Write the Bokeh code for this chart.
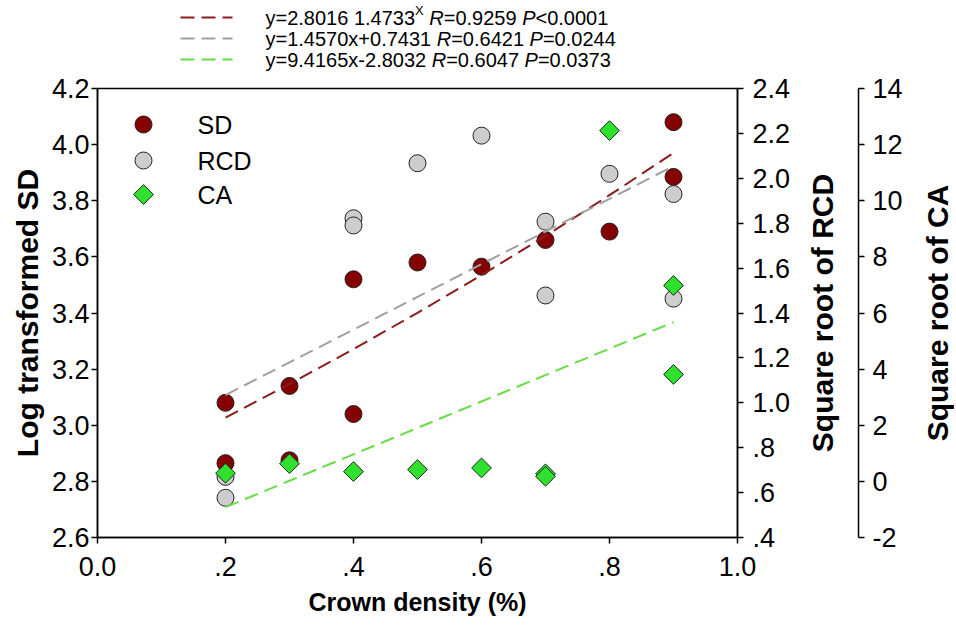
import math
from bokeh.plotting import figure
from bokeh.layouts import column, row
from bokeh.models import Range1d, FixedTicker, Label, LinearAxis
from bokeh.core.properties import value
from bokeh.embed import file_html
from bokeh.resources import INLINE

# ---------------- data ----------------
x_ticks = [0.0, 0.2, 0.4, 0.6, 0.8, 1.0]
x_tick_labels = ["0.0", ".2", ".4", ".6", ".8", "1.0"]
sd_ticks = [2.6, 2.8, 3.0, 3.2, 3.4, 3.6, 3.8, 4.0, 4.2]
sd_tick_labels = ["2.6", "2.8", "3.0", "3.2", "3.4", "3.6", "3.8", "4.0", "4.2"]
rcd_ticks = [0.4, 0.6, 0.8, 1.0, 1.2, 1.4, 1.6, 1.8, 2.0, 2.2, 2.4]
rcd_tick_labels = [".4", ".6", ".8", "1.0", "1.2", "1.4", "1.6", "1.8", "2.0", "2.2", "2.4"]
ca_ticks = [-2, 0, 2, 4, 6, 8, 10, 12, 14]
ca_tick_labels = ["-2", "0", "2", "4", "6", "8", "10", "12", "14"]

# SD (log transformed, left axis)
sd_x = [0.2, 0.2, 0.3, 0.3, 0.4, 0.4, 0.5, 0.6, 0.7, 0.8, 0.9, 0.9]
sd_y = [3.08, 2.865, 3.14, 2.875, 3.52, 3.04, 3.58, 3.565, 3.66, 3.69, 4.08, 3.885]
# RCD (square root, right axis)
rcd_x = [0.2, 0.2, 0.4, 0.4, 0.5, 0.6, 0.7, 0.7, 0.8, 0.9, 0.9]
rcd_y = [0.67, 0.577, 1.822, 1.79, 2.067, 2.19, 1.807, 1.478, 2.02, 1.93, 1.464]
# CA (square root, outer right axis)
ca_x = [0.2, 0.3, 0.4, 0.5, 0.6, 0.7, 0.7, 0.8, 0.9, 0.9]
ca_y = [0.29, 0.63, 0.35, 0.42, 0.48, 0.27, 0.18, 12.5, 6.98, 3.81]

series_names = ["SD", "RCD", "CA"]
x_title = "Crown density (%)"
y_titles = ["Log transformed SD", "Square root of RCD", "Square root of CA"]

# fitted relations (coefficients as printed on the chart)
fit_x = [0.2, 0.3, 0.4, 0.5, 0.6, 0.7, 0.8, 0.9]
sd_fit_a, sd_fit_b = 2.8016, 1.4733       # y = a * b^x
rcd_fit_k, rcd_fit_c = 1.4570, 0.7431     # y = kx + c
ca_fit_k, ca_fit_c = 9.4165, -2.8032      # y = kx + c
sd_fit_y = [sd_fit_a * sd_fit_b ** v for v in fit_x]
rcd_fit_y = [rcd_fit_k * v + rcd_fit_c for v in fit_x]
ca_fit_y = [ca_fit_k * v + ca_fit_c for v in fit_x]

eq_rows = [
    [("y=2.8016 1.4733", "n"), ("X", "sup"), (" ", "n"), ("R", "i"), ("=0.9259 ", "n"), ("P", "i"), ("<0.0001", "n")],
    [("y=1.4570x+0.7431 ", "n"), ("R", "i"), ("=0.6421 ", "n"), ("P", "i"), ("=0.0244", "n")],
    [("y=9.4165x-2.8032 ", "n"), ("R", "i"), ("=0.6047 ", "n"), ("P", "i"), ("=0.0373", "n")],
]

# ---------------- style ----------------
FONT = "Liberation Sans"
FW, FH = 640, 449
X0, X1 = 0.0, 1.0
Y0, Y1 = 2.6, 4.2
SD_COL, RCD_COL, CA_COL = "#850000", "#cdcdcd", "#2fe02f"
FIT_COLS = ["#8b1c1c", "#a0a0a0", "#66dd44"]
DASH = "14 7"
TICK_FS = "27px"
TITLE_FS_H = "25px"
TITLE_FS_V = "30px"
B_TOP, B_BOT = 17, 91
TOP_H = 88 - B_TOP
MAIN_RIGHT = 63        # room for RCD ticks + labels
MID_W, MID_RIGHT = 58, 62
END_W = 34


def style_axis(ax, tick_std, lab_std=0, title_fs=None):
    ax.axis_line_width = 1.5
    ax.axis_line_color = "black"
    ax.major_tick_line_width = 1.5
    ax.major_tick_line_color = "black"
    ax.major_tick_out = 6
    ax.major_tick_in = 0
    ax.minor_tick_line_color = None
    ax.major_label_text_font = FONT
    ax.major_label_text_font_size = TICK_FS
    ax.major_label_text_color = "black"
    ax.major_label_standoff = tick_std
    ax.axis_label_text_font = FONT
    if title_fs:
        ax.axis_label_text_font_size = title_fs
    ax.axis_label_text_font_style = "bold"
    ax.axis_label_text_color = "black"
    ax.axis_label_standoff = lab_std


def blank(fig):
    fig.grid.visible = False
    fig.outline_line_color = None
    fig.background_fill_color = "white"
    fig.border_fill_color = "white"


# ---------------- main plot ----------------
p = figure(frame_width=FW, frame_height=FH,
           x_range=Range1d(X0, X1), y_range=Range1d(Y0, Y1),
           output_backend="svg", toolbar_location=None,
           min_border_left=97, min_border_top=B_TOP, min_border_bottom=B_BOT,
           min_border_right=MAIN_RIGHT, y_axis_location="left")
p.extra_y_ranges = {"rcd": Range1d(rcd_ticks[0], rcd_ticks[-1]),
                    "ca": Range1d(ca_ticks[0], ca_ticks[-1])}
p.grid.visible = False
p.outline_line_color = "black"
p.outline_line_width = 1.5
p.background_fill_color = "white"
p.border_fill_color = "white"

xa = p.xaxis[0]
xa.ticker = FixedTicker(ticks=x_ticks)
xa.major_label_overrides = dict(zip(x_ticks, x_tick_labels))
xa.axis_label = x_title
style_axis(xa, 13, 9, TITLE_FS_H)

ya = p.yaxis[0]
ya.ticker = FixedTicker(ticks=sd_ticks)
ya.major_label_overrides = dict(zip(sd_ticks, sd_tick_labels))
ya.axis_label = y_titles[0]
style_axis(ya, 2, 5, TITLE_FS_V)

rcd_axis = LinearAxis(y_range_name="rcd", ticker=FixedTicker(ticks=rcd_ticks),
                      major_label_overrides=dict(zip(rcd_ticks, rcd_tick_labels)))
style_axis(rcd_axis, 9)
p.add_layout(rcd_axis, "right")

# points
p.scatter(sd_x, sd_y, marker="circle", size=17, fill_color=SD_COL,
          line_color="#222222", line_width=1)
p.scatter(rcd_x, rcd_y, y_range_name="rcd", marker="circle", size=17,
          fill_color=RCD_COL, line_color="#222222", line_width=1)
p.scatter(ca_x, ca_y, y_range_name="ca", marker="square", angle=math.pi / 4,
          size=14, fill_color=CA_COL, line_color="#1a2a1a", line_width=1)

# fit lines
p.line(fit_x, sd_fit_y, line_color=FIT_COLS[0], line_width=2, line_dash=DASH)
p.line(fit_x, rcd_fit_y, y_range_name="rcd", line_color=FIT_COLS[1], line_width=2, line_dash=DASH)
p.line(fit_x, ca_fit_y, y_range_name="ca", line_color=FIT_COLS[2], line_width=2, line_dash=DASH)

# in-plot legend (layout in px from the frame's top-left corner)
LEG_MX, LEG_TX = 46, 100
LEG_ROWS = [36, 72, 106]


def fx(px):
    return X0 + px * (X1 - X0) / FW


def fy(px):
    return Y1 - px * (Y1 - Y0) / FH


leg_styles = [dict(marker="circle", size=17, fill_color=SD_COL, line_color="#222222"),
              dict(marker="circle", size=17, fill_color=RCD_COL, line_color="#222222"),
              dict(marker="square", size=14, angle=math.pi / 4, fill_color=CA_COL,
                   line_color="#1a2a1a")]
for name, rr, st in zip(series_names, LEG_ROWS, leg_styles):
    p.scatter([fx(LEG_MX)], [fy(rr)], line_width=1, **st)
    p.add_layout(Label(x=fx(LEG_TX), y=fy(rr), text=name, text_font=FONT,
                       text_font_size="25px", text_baseline="middle",
                       text_align="left", text_color="black"))

# ---------------- middle strip: RCD title + CA axis ----------------
mid = figure(frame_width=MID_W, frame_height=FH, x_range=Range1d(0, MID_W),
             y_range=Range1d(ca_ticks[0], ca_ticks[-1]),
             x_axis_location=None, y_axis_location="right",
             min_border_left=0, min_border_right=MID_RIGHT,
             min_border_top=B_TOP, min_border_bottom=B_BOT,
             output_backend="svg", toolbar_location=None)
blank(mid)
ca_axis = mid.yaxis[0]
ca_axis.ticker = FixedTicker(ticks=ca_ticks)
ca_axis.major_label_overrides = dict(zip(ca_ticks, ca_tick_labels))
style_axis(ca_axis, 8)
mid.text([22], [(ca_ticks[0] + ca_ticks[-1]) / 2], text=[y_titles[1]],
         angle=math.pi / 2, text_align="center", text_baseline="middle",
         text_font=value(FONT), text_font_size=value(TITLE_FS_V),
         text_font_style="bold", text_color="black")

# ---------------- end strip: CA title ----------------
end = figure(frame_width=END_W, frame_height=FH, x_range=Range1d(0, END_W),
             y_range=Range1d(0, 1), x_axis_location=None, y_axis_location=None,
             min_border_left=0, min_border_right=0,
             min_border_top=B_TOP, min_border_bottom=B_BOT,
             output_backend="svg", toolbar_location=None)
blank(end)
end.text([17], [0.5], text=[y_titles[2]], angle=math.pi / 2, text_align="center",
         text_baseline="middle", text_font=value(FONT),
         text_font_size=value(TITLE_FS_V), text_font_style="bold",
         text_color="black")

# ---------------- equation legend strip (top) ----------------
CHAR_W = {**{d: 0.556 for d in "0123456789"}, ".": 0.278, "=": 0.584, "+": 0.584,
          "<": 0.584, "-": 0.333, " ": 0.278, "y": 0.5, "x": 0.5, "R": 0.722,
          "P": 0.667, "X": 0.667}
EQ_FS = 20
SUP_FS = 13
TOP_W = 97 + FW + MAIN_RIGHT + MID_W + MID_RIGHT + END_W

top = figure(width=TOP_W, height=TOP_H, x_range=Range1d(0, TOP_W),
             y_range=Range1d(TOP_H, 0), output_backend="svg", toolbar_location=None,
             x_axis_location=None, y_axis_location=None, min_border=0)
blank(top)

row_y = [17, 38, 59]
sample_x = (180, 232)
text_x0 = 265
for eq, color, yy in zip(eq_rows, FIT_COLS, row_y):
    top.line([sample_x[0], sample_x[1]], [yy, yy], line_color=color, line_width=2,
             line_dash=DASH)
    off = float(text_x0)
    for txt, kind in eq:
        fs = SUP_FS if kind == "sup" else EQ_FS
        top.text([off], [yy - 7 if kind == "sup" else yy], text=[txt],
                 text_font=value(FONT), text_font_size=value(f"{fs}px"),
                 text_font_style="italic" if kind == "i" else "normal",
                 text_baseline="middle", text_align="left", text_color="black")
        off += sum(CHAR_W.get(c, 0.556) for c in txt) * fs

layout = column(top, row(p, mid, end, spacing=0), spacing=0)
open("out.html", "w").write(file_html(layout, INLINE))
